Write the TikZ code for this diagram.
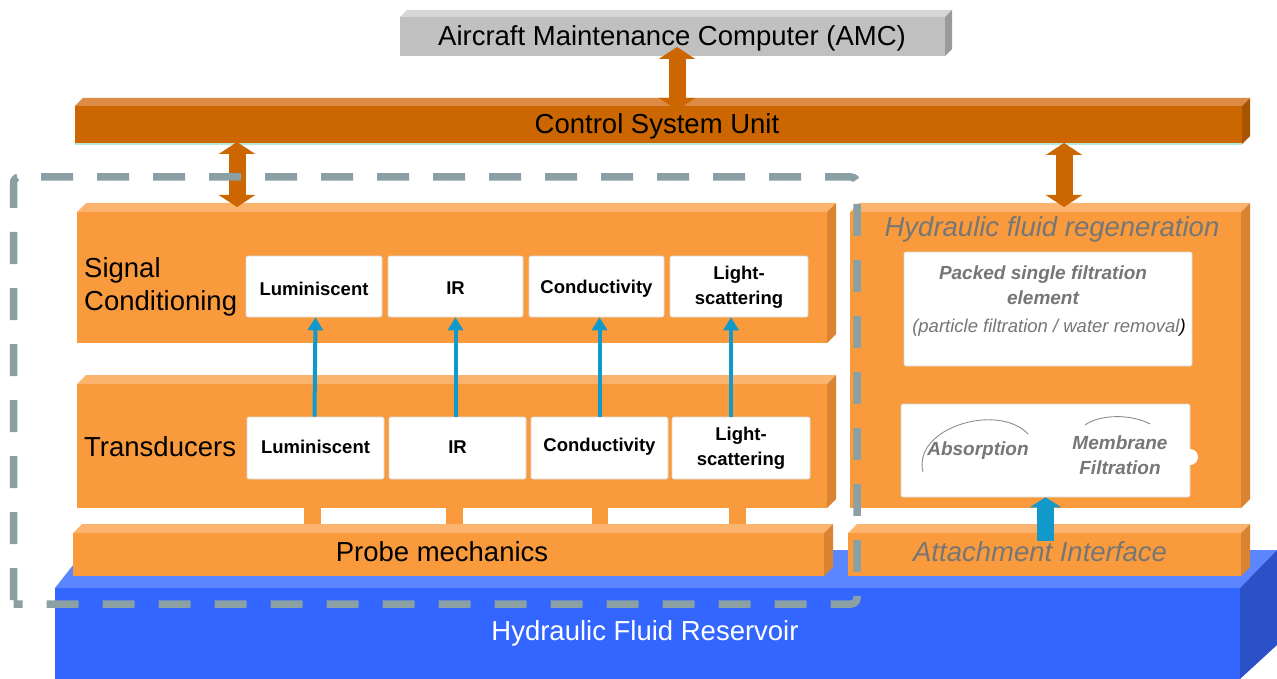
\documentclass[tikz,border=0pt]{standalone}
\usepackage{fontspec}
\setmainfont{Liberation Sans}
\usetikzlibrary{arrows.meta}
\definecolor{orF}{HTML}{F99A3C}
\definecolor{orT}{HTML}{FBB46E}
\definecolor{orS}{HTML}{DA8330}
\definecolor{csF}{HTML}{CC6600}
\definecolor{csT}{HTML}{DD8A44}
\definecolor{csS}{HTML}{A85400}
\definecolor{amF}{HTML}{C0C0C0}
\definecolor{amT}{HTML}{D6D6D6}
\definecolor{amS}{HTML}{9A9A9A}
\definecolor{blF}{HTML}{3366FF}
\definecolor{blT}{HTML}{5C86FF}
\definecolor{blS}{HTML}{2B50C8}
\definecolor{dashc}{HTML}{8AA0A4}
\definecolor{arrb}{HTML}{1199CC}
\definecolor{embg}{HTML}{767676}
\definecolor{csline}{HTML}{B8E8D8}
% x1 y1 x2 y2 front top side depth name
\newcommand\cubebox[9]{%
  \fill[#6] ({#1},{#2+#8}) -- ({#1+#8},{#2}) -- ({#3},{#2}) -- ({#3-#8},{#2+#8}) -- cycle;
  \fill[#7] ({#3-#8},{#2+#8}) -- ({#3},{#2}) -- ({#3},{#4-#8}) -- ({#3-#8},{#4}) -- cycle;
  \node[fill=#5, anchor=north west, inner sep=0pt, outer sep=0pt,
        minimum width={#3-#8-#1}, minimum height={#4-#2-#8}] (#9) at ({#1},{#2+#8}) {};%
}
\tikzset{
  big/.style={font=\fontsize{27.5}{33}\selectfont, inner sep=0pt},
  boxt/.style={font=\bfseries\fontsize{18.5}{25}\selectfont, align=center},
  wbox/.style={fill=white, draw=black!15, line width=0.6pt, rounded corners=2pt, inner sep=0pt},
  embbig/.style={text=embg, font=\itshape\fontsize{27.5}{33}\selectfont, inner sep=0pt},
  embsm/.style={text=embg, font=\bfseries\itshape\fontsize{19}{25}\selectfont, inner sep=0pt, align=center},
  dbl/.style={draw=csF, line width=17pt, {Triangle[width=36pt,length=12pt]}-{Triangle[width=36pt,length=12pt]}},
  blarrow/.style={draw=arrb, line width=4pt, -{Triangle[width=15pt,length=13pt]}},
  blblock/.style={draw=arrb, line width=17pt, -{Triangle[width=31pt,length=10pt]}},
  stub/.style={fill=orF},
  arcline/.style={draw=black!45, line width=0.9pt},
}
\begin{document}
\begin{tikzpicture}[x=1pt,y=-1pt]
\useasboundingbox (0,0) rectangle (1277,679);
\fill[white] (0,0) rectangle (1277,679);

% reservoir
\fill[blT] (55,588) -- (85,550) -- (1277,550) -- (1240,588) -- cycle;
\fill[blS] (1240,588) -- (1277,550) -- (1277,645) -- (1240,679) -- cycle;
\node[fill=blF, anchor=north west, inner sep=0pt, outer sep=0pt,
      minimum width=1185, minimum height=91] (res) at (55,588) {};
\node[big, text=white] (restext) at (645,633) {Hydraulic Fluid Reservoir};

% top boxes
\cubebox{400}{10}{952}{56}{amF}{amT}{amS}{7}{amc}
\node[big] (amctext) at (672,38) {Aircraft Maintenance Computer (AMC)};
\cubebox{75}{98}{1250}{144}{csF}{csT}{csS}{8}{csu}
\draw[csline, line width=1.5pt] (75,144) -- (1242,144);
\node[big] (csutext) at (657,126) {Control System Unit};

% left stack
\cubebox{77}{203}{836}{343}{orF}{orT}{orS}{9}{sc}
\cubebox{77}{375}{836}{508}{orF}{orT}{orS}{9}{tr}
\fill[stub] (304,507) rectangle (321,526);
\fill[stub] (446,507) rectangle (463,526);
\fill[stub] (592,507) rectangle (608,526);
\fill[stub] (729,507) rectangle (746,526);
\cubebox{73}{524}{833}{576}{orF}{orT}{orS}{9}{pm}
\node[big] (pmtext) at (442,552) {Probe mechanics};

\node[big, anchor=west, align=left] (sclabel) at (84,287) {Signal\\Conditioning};
\node[big, anchor=west] (trlabel) at (84,447) {Transducers};

\node[wbox, minimum width=136, minimum height=61] (s1) at (314,286.5) {};
\node[wbox, minimum width=135, minimum height=61] (s2) at (455.5,286.5) {};
\node[wbox, minimum width=135, minimum height=61] (s3) at (596.5,286.5) {};
\node[wbox, minimum width=138, minimum height=61] (s4) at (739,286.5) {};
\node[boxt] (s1t) at ([yshift=-2pt]s1.center) {Luminiscent};
\node[boxt] (s2t) at ([yshift=-2pt]s2.center) {IR};
\node[boxt] (s3t) at ([yshift=-2pt]s3.center) {Conductivity};
\node[boxt] (s4t) at ([yshift=-1pt]s4.center) {Light-\\scattering};

\node[wbox, minimum width=137, minimum height=62] (t1) at (315.5,448) {};
\node[wbox, minimum width=137, minimum height=62] (t2) at (457.5,448) {};
\node[wbox, minimum width=137, minimum height=62] (t3) at (599.5,448) {};
\node[wbox, minimum width=138, minimum height=62] (t4) at (741,448) {};
\node[boxt] (t1t) at ([yshift=1pt]t1.center) {Luminiscent};
\node[boxt] (t2t) at ([yshift=1pt]t2.center) {IR};
\node[boxt] (t3t) at ([yshift=1pt]t3.center) {Conductivity};
\node[boxt] (t4t) at (t4) {Light-\\scattering};

\draw[blarrow] ([xshift=-1pt]t1.north) -- (t1.north |- s1.south);
\draw[blarrow] ([xshift=-2pt]t2.north) -- ([xshift=-2pt]t2.north |- s2.south);
\draw[blarrow] (t3.north) -- (t3.north |- s3.south);
\draw[blarrow] ([xshift=-10pt]t4.north) -- ([xshift=-10pt]t4.north |- s4.south);

% right stack
\cubebox{850}{203}{1250}{508}{orF}{orT}{orS}{9}{hfr}
\cubebox{848}{524}{1250}{576}{orF}{orT}{orS}{9}{ai}
\node[embbig] (hfrtext) at (1052,229) {Hydraulic fluid regeneration};
\node[embbig] (aitext) at (1040,552) {Attachment Interface};

\node[wbox, minimum width=288, minimum height=114] (pack) at (1048,309) {};
\node[embsm] (packt) at (1043,285) {Packed single filtration\\element};
\node[embsm, font=\itshape\fontsize{18.5}{25}\selectfont] (packp) at (1049,328)
  {(particle filtration / water removal\textcolor{black}{)}};

\node[wbox, minimum width=289, minimum height=93] (filt) at (1045.5,450.5) {};
\fill[white] (1190,457) circle (8);
\draw[arcline] (923,472) .. controls (912,428) and (998,402) .. (1028,434);
\draw[arcline] (1085,425) .. controls (1100,414) and (1132,414) .. (1150,424);
\node[embsm] (abs) at (978,451) {Absorption};
\node[embsm] (mem) at (1120,455) {Membrane\\Filtration};

% connectors
\coordinate (xa) at (677,0);
\coordinate (xl) at (237,0);
\coordinate (xr) at (1064,0);
\draw[dbl, shorten <=-9pt, shorten >=-4pt] (amc.south -| xa) -- (csu.north -| xa);
\draw[dbl, shorten <=-2pt, shorten >=5pt] (csu.south -| xl) -- (sc.north -| xl);
\draw[dbl, shorten <=-1pt, shorten >=5pt] (csu.south -| xr) -- (hfr.north -| xr);
\draw[blblock, shorten <=-8pt] (ai.north -| filt.south) -- (filt.south);

% dashed boundary
\draw[dashc, line width=7.5pt, dash pattern=on 32pt off 24pt, rounded corners=6pt]
  (13.5,600) -- (13.5,177) -- (857,177) -- (857,604) -- (13.5,604);
\end{tikzpicture}
\end{document}
